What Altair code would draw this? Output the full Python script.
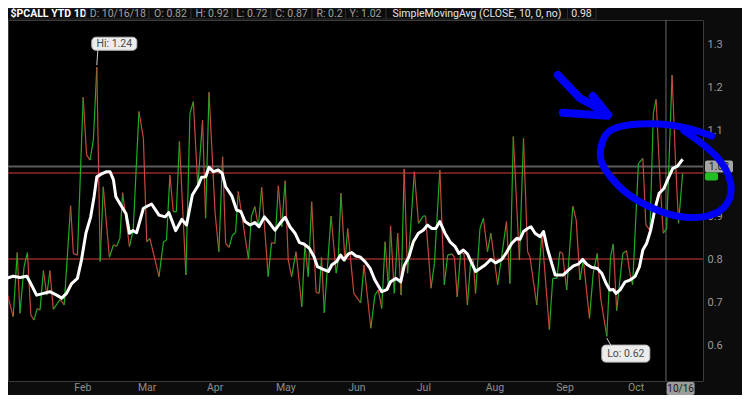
import altair as alt
import pandas as pd

# ---------------- data ----------------
# daily close of $PCALL (trading-day index, value) – turning points
close_day = [
    0.5, 2.4, 3.6, 4.4, 5.6, 6.6, 7.6, 8.5, 9.5, 10.3,
    11.3, 12.3, 13.2, 14.2, 15.4, 16.3, 17.4, 19.3, 20.1, 21.3,
    23.0, 24.0, 25.0, 26.0, 27.0, 28.0, 28.9, 30.7, 31.9, 32.8,
    33.8, 34.6, 36.6, 37.7, 39.4, 40.7, 41.7, 42.6, 45.3, 46.6,
    47.5, 48.5, 49.5, 50.4, 51.3, 53.2, 54.4, 55.4, 56.7, 58.1,
    59.0, 60.0, 61.8, 62.9, 64.0, 64.9, 65.9, 66.9, 67.8, 68.6,
    71.6, 72.5, 73.5, 74.5, 75.5, 77.4, 78.4, 79.4, 80.4, 81.4,
    82.4, 83.3, 84.3, 85.6, 87.3, 88.2, 89.2, 90.2, 91.5, 92.4,
    93.1, 93.9, 95.9, 97.4, 98.0, 98.8, 100.0, 100.8, 102.6, 104.6,
    105.6, 107.6, 108.8, 109.8, 110.8, 111.8, 112.8, 113.4, 114.5, 115.5,
    116.5, 117.4, 118.4, 120.4, 121.6, 123.0, 123.7, 125.3, 126.3, 127.9,
    129.2, 130.2, 131.4, 132.2, 133.0, 134.0, 135.0, 136.0, 137.0, 137.7,
    138.4, 139.7, 140.7, 141.9, 142.9, 144.9, 147.5, 148.5, 149.5, 151.3,
    152.5, 153.7, 154.4, 156.4, 157.9, 160.1, 161.1, 162.3, 163.2, 164.0,
    165.2, 167.0, 168.0, 169.1, 170.1, 171.9, 173.0, 174.2, 175.2, 177.0,
    178.1, 178.9, 179.9, 181.7, 182.8, 183.8, 184.6, 186.3, 187.6, 188.5,
    189.7, 190.7, 191.5, 192.6, 193.6, 194.6, 196.2, 197.2, 198.1, 199.3,
]
close_val = [
    0.724, 0.666, 0.815, 0.674, 0.782, 0.815, 0.670, 0.658, 0.685, 0.681,
    0.773, 0.716, 0.773, 0.683, 0.697, 0.706, 0.693, 0.924, 0.813, 0.809,
    1.176, 1.042, 1.030, 1.077, 1.246, 0.794, 0.968, 0.804, 0.833, 0.829,
    0.848, 0.954, 0.829, 0.867, 1.143, 1.081, 0.840, 0.848, 0.759, 0.840,
    0.844, 0.995, 0.910, 0.910, 1.074, 0.763, 1.139, 1.166, 0.968, 1.123,
    0.895, 1.188, 0.906, 0.817, 1.038, 0.836, 0.827, 0.856, 0.861, 0.957,
    0.800, 0.900, 0.922, 0.875, 0.967, 0.759, 0.838, 0.836, 0.970, 0.875,
    0.982, 0.798, 0.759, 0.817, 0.689, 0.833, 0.759, 0.933, 0.722, 0.720,
    0.804, 0.675, 0.900, 0.767, 0.798, 0.953, 0.794, 0.871, 0.720, 0.698,
    0.786, 0.639, 0.716, 0.728, 0.685, 0.840, 0.728, 0.877, 0.720, 0.860,
    0.716, 1.009, 0.767, 1.003, 0.883, 0.900, 0.900, 0.732, 0.790, 1.007,
    0.740, 0.809, 0.812, 0.804, 0.712, 0.815, 0.812, 0.693, 0.798, 0.799,
    0.720, 0.871, 0.895, 0.817, 0.860, 0.740, 0.887, 0.743, 1.085, 0.798,
    1.081, 0.817, 0.805, 0.693, 0.860, 0.636, 0.755, 0.755, 0.817, 0.813,
    0.728, 0.923, 0.891, 0.751, 0.798, 0.662, 0.767, 0.813, 0.709, 0.620,
    0.805, 0.835, 0.680, 0.813, 0.819, 0.767, 0.740, 1.022, 1.034, 0.879,
    0.867, 1.139, 1.171, 0.991, 0.860, 0.871, 1.228, 1.030, 0.883, 0.999,
]

# SimpleMovingAvg(CLOSE, 10) – white line
sma_day = [
    0.5, 2.4, 4.4, 6.4, 7.3, 9.3, 11.3, 13.2, 15.2, 16.7,
    18.1, 19.6, 21.3, 22.5, 23.8, 25.2, 26.2, 27.0, 28.4, 29.9,
    30.9, 31.9, 32.6, 34.0, 35.6, 36.6, 37.6, 38.7, 40.7, 43.1,
    45.3, 47.1, 48.2, 50.2, 52.0, 53.4, 55.1, 56.9, 57.8, 59.0,
    60.0, 61.3, 62.7, 63.9, 64.9, 66.7, 68.1, 69.4, 70.6, 72.1,
    73.5, 74.7, 76.3, 77.9, 79.4, 80.9, 82.4, 83.8, 85.3, 86.6,
    87.9, 89.5, 90.9, 91.9, 93.6, 95.1, 96.1, 97.5, 98.7, 99.7,
    101.0, 102.0, 103.2, 104.4, 105.9, 107.4, 108.8, 110.8, 112.3, 113.4,
    115.0, 116.4, 117.4, 118.8, 120.1, 121.6, 123.0, 124.3, 125.5, 126.7,
    127.9, 129.4, 130.9, 132.4, 133.5, 134.8, 136.0, 137.3, 138.4, 139.7,
    141.2, 142.9, 144.3, 146.1, 147.5, 149.0, 150.5, 151.5, 152.5, 153.7,
    154.7, 155.9, 157.4, 158.4, 159.5, 160.8, 161.8, 164.2, 165.7, 167.2,
    168.6, 169.9, 171.1, 172.5, 174.2, 175.5, 176.8, 177.9, 178.9, 179.7,
    180.9, 182.4, 183.8, 185.3, 186.6, 187.6, 188.7, 189.9, 191.2, 192.4,
    193.8, 195.1, 196.4, 197.8, 199.3,
]
sma_val = [
    0.755, 0.760, 0.757, 0.760, 0.747, 0.716, 0.720, 0.724, 0.716, 0.709,
    0.720, 0.743, 0.755, 0.798, 0.860, 0.898, 0.945, 0.991, 0.998, 1.003,
    1.003, 0.984, 0.945, 0.926, 0.905, 0.860, 0.866, 0.861, 0.918, 0.928,
    0.902, 0.898, 0.908, 0.866, 0.892, 0.879, 0.949, 0.972, 0.990, 0.991,
    1.013, 1.003, 1.007, 0.999, 0.968, 0.947, 0.914, 0.910, 0.887, 0.879,
    0.885, 0.875, 0.898, 0.883, 0.867, 0.883, 0.897, 0.875, 0.860, 0.838,
    0.835, 0.825, 0.805, 0.782, 0.776, 0.771, 0.786, 0.794, 0.809, 0.798,
    0.812, 0.815, 0.807, 0.805, 0.794, 0.778, 0.751, 0.724, 0.729, 0.747,
    0.755, 0.747, 0.784, 0.805, 0.840, 0.860, 0.867, 0.879, 0.871, 0.871,
    0.887, 0.860, 0.840, 0.829, 0.813, 0.821, 0.812, 0.790, 0.771, 0.778,
    0.786, 0.799, 0.791, 0.799, 0.815, 0.836, 0.848, 0.846, 0.864, 0.871,
    0.875, 0.860, 0.852, 0.864, 0.825, 0.790, 0.763, 0.763, 0.774, 0.784,
    0.788, 0.799, 0.788, 0.781, 0.778, 0.767, 0.743, 0.728, 0.729, 0.720,
    0.728, 0.747, 0.751, 0.759, 0.782, 0.821, 0.836, 0.867, 0.918, 0.953,
    0.964, 0.988, 1.011, 1.016, 1.032,
]

month_names = ["Feb", "Mar", "Apr", "May", "Jun", "Jul", "Aug", "Sep", "Oct"]
month_day = [22.9, 41.8, 61.8, 82.6, 103.5, 123.2, 144.1, 164.7, 185.6]
# 1.0 is hidden behind the last-price tag in the reference
y_tick_values = [0.6, 0.7, 0.8, 0.9, 1.1, 1.2, 1.3]
red_levels = [1.0, 0.8]
last_level = [1.015]
cursor_day = [194.4]
last_date = ["10/16"]
last_date_day = [198.7]
hi_point = {"day": [27.0], "val": [1.246], "label": ["Hi: 1.24"]}
lo_point = {"day": [177.0], "val": [0.616], "label": ["Lo: 0.62"]}

header_texts = ["$PCALL YTD 1D", "D: 10/16/18", "O: 0.82", "H: 0.92", "L: 0.72",
                "C: 0.87", "R: 0.2", "Y: 1.02", "SimpleMovingAvg (CLOSE, 10, 0, no)", "0.98"]

# hand-drawn blue annotation (in chart units: day index, value)
ring_day = [207.9, 200.3, 192.6, 183.8, 177.9, 175.6, 175.3, 177.9, 182.9, 189.7,
            197.6, 205.3, 210.9, 213.5, 212.6, 209.4, 204.4, 199.7]
ring_val = [1.086, 1.105, 1.114, 1.112, 1.098, 1.070, 1.030, 0.993, 0.953, 0.921,
            0.900, 0.898, 0.916, 0.953, 0.998, 1.037, 1.072, 1.098]
arrow_day = [162.6, 166.8, 169.1, 172.9, 177.4, 172.9, 177.4, 164.1, 177.1]
arrow_val = [1.228, 1.193, 1.174, 1.158, 1.135, 1.179, 1.135, 1.140, 1.133]
arrow_part = ["shaft"] * 5 + ["barb1"] * 2 + ["barb2"] * 2

# ---------------- layout / style ----------------
W, H = 695, 361
X_DOM = [3 / 3.4, 698 / 3.4]
Y_DOM = [0.8 - 122 / 430, 0.8 + 239 / 430]
xs = alt.Scale(domain=X_DOM, nice=False, zero=False)
ys = alt.Scale(domain=Y_DOM, nice=False, zero=False)
FONT = "Roboto"
GREEN, RED = "#1eae22", "#c8463f"
BLUE = "#0000f6"
Y_AXIS = alt.Axis(orient="right", values=y_tick_values, format=".1f", title=None,
                  grid=False, ticks=False, domain=False, labelPadding=4,
                  labelColor="#9a9a9a", labelFont=FONT, labelFontSize=11)


def X(field):
    return alt.X(field, scale=xs, axis=None)


def Y(field):
    return alt.Y(field, scale=ys, axis=Y_AXIS)


header_cells = [(-5, 78), (78, 141), (141, 183), (183, 224), (224, 263), (263, 304),
                (304, 337.5), (337.5, 378), (378, 559.5), (559.5, 588)]
header_centers = [40.5, 109.8, 162.5, 204, 243.8, 283.5, 321.5, 357.5, 469, 573.5]
header_colors = ["#ffffff"] + ["#a0a0a0"] * 7 + ["#e6e6e6", "#e6e6e6"]

# ---------------- build frames ----------------
seg = pd.DataFrame({
    "d0": close_day[:-1], "d1": close_day[1:],
    "v0": close_val[:-1], "v1": close_val[1:],
})
seg["dir"] = ["up" if b >= a else "down" for a, b in zip(seg["v0"], seg["v1"])]
sma = pd.DataFrame({"day": sma_day, "val": sma_val})
months = pd.DataFrame({"day": month_day, "name": month_names})
ring = pd.DataFrame({"day": ring_day, "val": ring_val, "k": range(len(ring_day))})
arrow = pd.DataFrame({"day": arrow_day, "val": arrow_val, "part": arrow_part,
                      "k": range(len(arrow_day))})
hi = pd.DataFrame(hi_point)
lo = pd.DataFrame(lo_point)

layers = []

# header cells
for (a, b), cx, txt, col in zip(header_cells, header_centers, header_texts, header_colors):
    base = alt.Chart(pd.DataFrame({"t": [txt]}))
    layers.append(base.mark_rect(fill="#0c0c0c", stroke="#2c2c2c", strokeWidth=1).encode(
        x=alt.value(a), x2=alt.value(b), y=alt.value(-12), y2=alt.value(-1)))
    layers.append(base.mark_text(font=FONT, fontSize=10.5, color=col, baseline="middle",
                                 fontWeight="bold" if txt.startswith("$") else "normal").encode(
        x=alt.value(cx), y=alt.value(-6.5), text="t:N"))

# horizontal level lines
layers.append(alt.Chart(pd.DataFrame({"v": last_level})).mark_rule(
    color="#5c5c5c", strokeWidth=2).encode(y=Y("v:Q")))
layers.append(alt.Chart(pd.DataFrame({"v": red_levels})).mark_rule(
    color="#d9403a", strokeWidth=1).encode(y=Y("v:Q")))
# cursor line
layers.append(alt.Chart(pd.DataFrame({"d": cursor_day})).mark_rule(
    color="#6a6a6a", strokeWidth=1).encode(x=X("d:Q")))

# close segments coloured by direction
layers.append(alt.Chart(seg).mark_rule(strokeWidth=1.2, clip=True).encode(
    x=X("d0:Q"), x2="d1:Q",
    y=Y("v0:Q"), y2="v1:Q",
    color=alt.Color("dir:N", scale=alt.Scale(domain=["up", "down"], range=[GREEN, RED]),
                    legend=None)))

# SMA line
layers.append(alt.Chart(sma).mark_line(color="white", strokeWidth=3, clip=True,
                                       strokeJoin="round").encode(
    x=X("day:Q"), y=Y("val:Q")))

# month labels
layers.append(alt.Chart(months).mark_text(font=FONT, fontSize=10.5, color="#8e8e8e",
                                          baseline="middle").encode(
    x=X("day:Q"), y=alt.value(368), text="name:N"))

# last date box
ld = pd.DataFrame({"day": last_date_day, "t": last_date})
layers.append(alt.Chart(ld).mark_rect(fill="#9c9c9c", cornerRadius=2,
                                      xOffset=-14, x2Offset=14).encode(
    x=X("day:Q"), x2="day:Q",
    y=alt.value(362), y2=alt.value(375)))
layers.append(alt.Chart(ld).mark_text(font=FONT, fontSize=10, color="#1a1a1a",
                                      baseline="middle").encode(
    x=X("day:Q"), y=alt.value(368.5), text="t:N"))

# price boxes on the right axis
pb = pd.DataFrame({"v": last_level, "t": ["1.02"]})
layers.append(alt.Chart(pb).mark_rect(fill="#a5a5a5", cornerRadius=2,
                                      yOffset=-6, y2Offset=6).encode(
    x=alt.value(697), x2=alt.value(725),
    y=Y("v:Q"), y2="v:Q"))
layers.append(alt.Chart(pb).mark_rect(fill="#22c022", cornerRadius=2,
                                      yOffset=6, y2Offset=14).encode(
    x=alt.value(697), x2=alt.value(710),
    y=Y("v:Q"), y2="v:Q"))
layers.append(alt.Chart(pb).mark_text(font=FONT, fontSize=10.5, color="#1a1a1a",
                                      baseline="middle").encode(
    x=alt.value(711), y=Y("v:Q"), text="t:N"))

# Hi / Lo callouts
for df, box, ptr, tdx, tdy in [
    (hi, (-5, 40, -30, -17), (0, 1, -2, -17), 17.5, -23.5),
    (lo, (-5, 43, 7, 24), (0, 4, 0, 7), 19, 15.5),
]:
    layers.append(alt.Chart(df).mark_rule(color="#cfcfcf", strokeWidth=1,
                                          xOffset=ptr[0], x2Offset=ptr[1],
                                          yOffset=ptr[2], y2Offset=ptr[3]).encode(
        x=X("day:Q"), x2="day:Q",
        y=Y("val:Q"), y2="val:Q"))
    layers.append(alt.Chart(df).mark_rect(fill="#ececec", stroke="#bdbdbd", cornerRadius=4,
                                          xOffset=box[0], x2Offset=box[1],
                                          yOffset=box[2], y2Offset=box[3]).encode(
        x=X("day:Q"), x2="day:Q",
        y=Y("val:Q"), y2="val:Q"))
    layers.append(alt.Chart(df).mark_text(font=FONT, fontSize=10.5, color="#4a4a4a",
                                          baseline="middle", dx=tdx, dy=tdy).encode(
        x=X("day:Q"), y=Y("val:Q"), text="label:N"))

# blue hand-drawn ring and arrow
layers.append(alt.Chart(ring).mark_line(color=BLUE, strokeWidth=7, strokeCap="round",
                                        strokeJoin="round", interpolate="cardinal",
                                        clip=False).encode(
    x=X("day:Q"), y=Y("val:Q"), order="k:Q"))
layers.append(alt.Chart(arrow).mark_line(color=BLUE, strokeWidth=8, strokeCap="round",
                                         strokeJoin="round", clip=False).encode(
    x=X("day:Q"), y=Y("val:Q"), detail="part:N", order="k:Q"))

chart = alt.layer(*layers).properties(
    width=W, height=H,
    padding={"left": 0, "top": 12, "right": 39, "bottom": 14},
    autosize=alt.AutoSizeParams(type="none"),
    background="#0c0c0c",
).configure_view(fill="#000000", stroke="#3c3c3c", strokeWidth=1)

chart.save("out.html", embed_options={"renderer": "svg", "actions": False})
